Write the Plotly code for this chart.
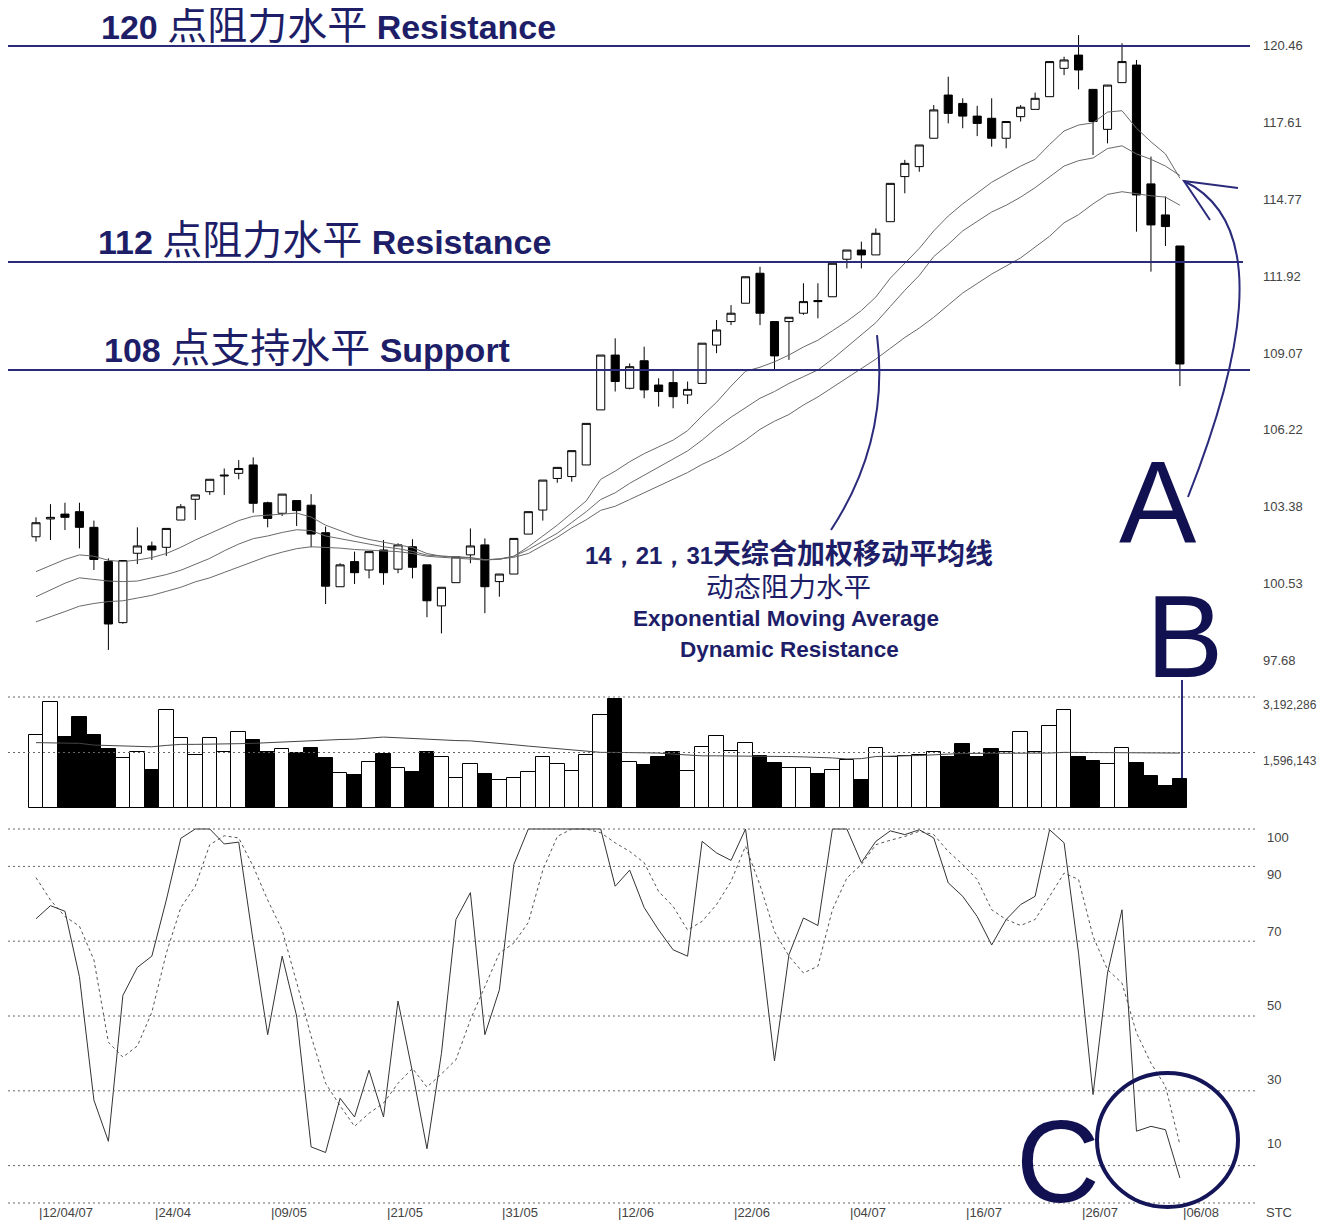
import plotly.graph_objects as go

# ---------------- data ----------------
N = 80
idx = list(range(N))

opens = [101.82, 102.48, 102.66, 102.75, 102.17, 100.90, 98.64, 101.21, 101.48, 101.43,
         102.44, 103.21, 103.49, 104.07, 104.17, 104.48, 103.08, 102.69, 103.16, 102.99,
         101.97, 99.97, 100.90, 100.59, 101.33, 100.62, 101.45, 100.78, 99.26, 100.12,
         101.15, 101.52, 100.16, 100.44, 101.92, 102.81, 103.98, 104.05, 104.48, 106.52,
         108.55, 107.32, 108.34, 107.44, 107.53, 107.07, 107.50, 108.92, 109.79, 110.47,
         111.58, 109.79, 109.79, 110.10, 110.57, 110.71, 112.10, 112.44, 112.26, 113.49,
         115.16, 115.53, 116.58, 118.18, 117.87, 117.40, 117.32, 116.58, 117.38, 117.65,
         118.12, 119.17, 119.66, 118.39, 116.91, 118.64, 119.29, 114.89, 113.74, 112.59]
highs = [102.54, 103.03, 103.08, 103.08, 102.42, 101.02, 100.96, 102.17, 101.64, 102.13,
         103.03, 103.37, 103.95, 104.35, 104.66, 104.76, 103.12, 103.40, 103.16, 103.40,
         102.20, 100.84, 101.27, 101.27, 101.70, 101.58, 101.73, 100.78, 99.95, 101.08,
         102.13, 101.76, 100.44, 101.76, 102.75, 103.92, 104.39, 105.01, 106.02, 108.55,
         109.17, 108.24, 108.86, 107.69, 108.00, 107.57, 108.99, 109.85, 110.40, 111.45,
         111.82, 109.79, 109.95, 111.21, 111.21, 111.95, 112.44, 112.75, 113.24, 114.91,
         115.78, 116.33, 117.81, 118.86, 118.06, 117.78, 118.06, 117.20, 117.81, 118.27,
         119.42, 119.60, 120.40, 118.39, 118.55, 120.10, 119.48, 115.90, 114.42, 112.59]
lows = [101.64, 101.70, 102.07, 101.39, 100.59, 97.63, 98.60, 100.81, 100.96, 101.11,
        102.44, 102.44, 103.37, 103.37, 103.95, 102.71, 102.17, 102.59, 102.22, 101.43,
        99.33, 99.97, 100.07, 100.28, 100.04, 100.47, 100.28, 98.84, 98.24, 100.12,
        100.84, 98.99, 99.60, 100.44, 101.92, 102.42, 103.82, 103.86, 104.48, 106.52,
        107.20, 107.28, 106.95, 106.64, 106.58, 106.74, 107.50, 108.62, 109.66, 110.47,
        109.66, 108.02, 108.37, 110.04, 109.91, 110.71, 111.76, 111.76, 112.26, 113.49,
        114.54, 115.34, 116.58, 117.13, 116.95, 116.66, 116.27, 116.21, 117.20, 117.65,
        118.12, 118.92, 118.39, 115.96, 116.39, 118.64, 113.12, 111.64, 112.59, 107.40]
closes = [102.34, 102.54, 102.54, 102.17, 100.98, 98.59, 100.94, 101.48, 101.33, 102.13,
          102.93, 103.37, 103.95, 104.10, 104.35, 103.06, 102.50, 103.40, 102.79, 101.92,
          99.99, 100.78, 100.49, 101.27, 100.49, 101.52, 100.69, 99.45, 99.95, 101.08,
          101.48, 99.97, 100.44, 101.76, 102.75, 103.92, 104.39, 105.01, 106.02, 108.55,
          107.57, 108.12, 107.26, 107.20, 107.01, 107.28, 108.99, 109.48, 110.10, 111.45,
          110.10, 108.52, 109.95, 110.53, 110.53, 111.95, 112.44, 112.26, 113.06, 114.91,
          115.65, 116.33, 117.63, 117.50, 117.40, 117.13, 116.58, 117.20, 117.73, 118.06,
          119.42, 119.48, 119.11, 117.20, 118.55, 119.42, 114.48, 113.37, 113.31, 108.22]

ema14 = [100.53, 100.75, 100.98, 101.15, 101.10, 100.95, 100.90, 100.96, 101.05, 101.20,
         101.43, 101.70, 101.95, 102.17, 102.42, 102.58, 102.62, 102.66, 102.70, 102.55,
         102.25, 102.05, 101.85, 101.72, 101.62, 101.52, 101.42, 101.20, 101.10, 101.08,
         101.05, 100.97, 100.98, 101.10, 101.45, 101.85, 102.25, 102.70, 103.15, 103.95,
         104.25, 104.60, 104.90, 105.15, 105.40, 105.75, 106.30, 106.80, 107.40, 107.95,
         108.10, 108.30, 108.55, 108.85, 109.10, 109.45, 109.80, 110.20, 110.70, 111.40,
         111.95, 112.50, 113.15, 113.70, 114.15, 114.55, 114.95, 115.25, 115.55, 115.80,
         116.35, 116.85, 117.07, 117.15, 117.55, 117.60, 116.95, 116.45, 116.00, 115.10]
ema21 = [99.60, 99.85, 100.10, 100.30, 100.25, 100.18, 100.16, 100.18, 100.30, 100.42,
         100.58, 100.80, 101.02, 101.30, 101.55, 101.75, 101.85, 101.98, 102.08, 102.05,
         101.85, 101.75, 101.65, 101.55, 101.45, 101.38, 101.28, 101.14, 101.10, 101.08,
         101.04, 100.97, 101.00, 101.10, 101.35, 101.65, 101.95, 102.35, 102.75, 103.20,
         103.45, 103.80, 104.10, 104.40, 104.70, 105.00, 105.40, 105.85, 106.25, 106.60,
         106.95, 107.20, 107.50, 107.75, 108.00, 108.40, 108.85, 109.30, 109.75, 110.35,
         110.95, 111.50, 112.20, 112.65, 113.15, 113.50, 113.85, 114.10, 114.40, 114.75,
         115.15, 115.55, 115.75, 115.85, 116.20, 116.30, 116.00, 115.80, 115.55, 115.20]
ema31 = [98.67, 98.85, 99.05, 99.25, 99.35, 99.42, 99.45, 99.55, 99.65, 99.80,
         99.95, 100.15, 100.30, 100.50, 100.70, 100.90, 101.10, 101.25, 101.38, 101.45,
         101.43, 101.40, 101.35, 101.32, 101.29, 101.27, 101.20, 101.10, 101.06, 101.03,
         101.00, 100.96, 101.00, 101.06, 101.20, 101.50, 101.80, 102.15, 102.45, 102.80,
         102.95, 103.20, 103.45, 103.70, 103.95, 104.20, 104.50, 104.75, 105.05, 105.40,
         105.80, 106.10, 106.35, 106.70, 107.00, 107.35, 107.70, 108.05, 108.40, 108.80,
         109.20, 109.55, 109.95, 110.40, 110.85, 111.20, 111.55, 111.85, 112.15, 112.55,
         112.95, 113.45, 113.75, 114.15, 114.50, 114.60, 114.52, 114.45, 114.40, 114.10]

# volume in millions
volume = [2.09, 3.05, 2.05, 2.61, 2.09, 1.69, 1.44, 1.62, 1.08, 2.82,
          2.02, 1.53, 2.02, 1.60, 2.19, 1.97, 1.62, 1.69, 1.58, 1.72,
          1.44, 1.00, 0.96, 1.33, 1.55, 1.15, 1.03, 1.60, 1.47, 0.85,
          1.27, 0.99, 0.80, 0.85, 1.03, 1.47, 1.27, 1.06, 1.53, 2.68,
          3.13, 1.33, 1.24, 1.47, 1.60, 1.06, 1.76, 2.08, 1.64, 1.86,
          1.49, 1.29, 1.15, 1.15, 0.99, 1.10, 1.38, 0.80, 1.72, 1.47,
          1.50, 1.53, 1.62, 1.48, 1.83, 1.48, 1.69, 1.60, 2.18, 1.60,
          2.35, 2.82, 1.46, 1.34, 1.27, 1.72, 1.29, 0.91, 0.63, 0.82]
volume_ma = [1.88, 1.88, 1.88, 1.86, 1.81, 1.80, 1.80, 1.78, 1.76, 1.80,
             1.83, 1.83, 1.83, 1.84, 1.85, 1.86, 1.88, 1.90, 1.92, 1.95,
             1.97, 1.97, 1.98, 2.00, 2.04, 2.02, 2.00, 1.96, 1.95, 1.94,
             1.93, 1.90, 1.86, 1.82, 1.78, 1.74, 1.70, 1.66, 1.62, 1.60,
             1.60, 1.60, 1.59, 1.58, 1.55, 1.52, 1.50, 1.50, 1.50, 1.50,
             1.50, 1.49, 1.48, 1.47, 1.46, 1.44, 1.41, 1.42, 1.48, 1.50,
             1.50, 1.51, 1.52, 1.55, 1.57, 1.57, 1.57, 1.57, 1.57, 1.57,
             1.58, 1.60, 1.60, 1.60, 1.60, 1.60, 1.60, 1.60, 1.59, 1.58]

stoch_k = [76, 79.5, 78, 60.5, 27.5, 16.5, 55.5, 63, 66, 81,
           97.5, 100, 100, 96, 96.5, 70, 45, 66, 50, 15,
           13.5, 28, 23, 35.5, 23, 54, 35, 14.5, 40, 75.8,
           83, 45, 57, 90.5, 100, 100, 100, 100, 100, 100,
           84.7, 89, 79, 73, 67.7, 66, 96.7, 93.6, 91.6, 100,
           70.4, 38, 66.4, 76.2, 74.2, 100, 100, 91, 96.7, 99.5,
           98.5, 99.8, 97.6, 85.6, 82, 76.6, 69, 75.8, 79.8, 82,
           99.8, 96.3, 66.8, 29, 61.5, 78.4, 19.2, 20.5, 19.6, 6.7]
stoch_d = [87, 81, 76.6, 74, 65, 43, 39, 42, 51, 66.8,
           79, 84.7, 95.8, 98.2, 97.6, 90, 81, 73, 59, 44.6,
           32, 26, 20.5, 24, 26.7, 32, 36, 31, 34.5, 38.3,
           49, 58, 66.8, 69.5, 75, 89, 98, 100, 100, 99,
           96.3, 94, 91, 83.3, 79.3, 73, 75.3, 79.8, 86, 95.4,
           85, 72.6, 66, 61.5, 63.3, 78.4, 86.9, 90.5, 95.8, 97,
           98, 99.4, 98.5, 94, 90.5, 86.5, 78.4, 75.8, 74.2, 75.8,
           82, 88.2, 86.5, 71.3, 62.4, 58.8, 45.5, 37.4, 31.2, 15.6]

date_idx = [0, 8, 16, 24, 32, 40, 48, 56, 64, 72, 79]
date_labels = ["12/04/07", "24/04", "09/05", "21/05", "31/05", "12/06",
               "22/06", "04/07", "16/07", "26/07", "06/08"]
price_ticks = ["120.46", "117.61", "114.77", "111.92", "109.07",
               "106.22", "103.38", "100.53", "97.68"]
volume_ticks = [3.192286, 1.596143]
volume_tick_text = ["3,192,286", "1,596,143"]
stoch_levels = [100, 90, 70, 50, 30, 10, 0]
stoch_labels = ["100", "90", "70", "50", "30", "10"]
levels = [120, 112, 108]

# ---------------- geometry helpers (reference pixel -> paper) ----------------
OFF = 8                      # page body margin
W, H = 1336 - OFF, 1222 - OFF
def px(x):
    return (x - OFF) / W
def py(y):
    return 1 - (y - OFF) / H
def pt(x, y):
    return f"{px(x):.5f},{py(y):.5f}"

SPACING = 14.48
X0 = 36.0
def xi(pix):  # reference pixel -> index coordinate
    return (pix - X0) / SPACING

xr = [xi(OFF), xi(1336)]

NAVY = "#1e1e68"
LINE_NAVY = "#2b2b7c"
SANS = "Liberation Sans, Arial, sans-serif"
CJK = "Noto Sans CJK SC"

vol_colors = ["white" if c >= o else "black" for o, c in zip(opens, closes)]

fig = go.Figure()

# price panel
for ema in (ema31, ema21, ema14):
    fig.add_trace(go.Scatter(x=idx, y=ema, mode="lines",
                             line=dict(color="#6a6a6a", width=1),
                             xaxis="x", yaxis="y", hoverinfo="skip"))
fig.add_trace(go.Candlestick(
    x=idx, open=opens, high=highs, low=lows, close=closes,
    increasing=dict(line=dict(color="black", width=1), fillcolor="white"),
    decreasing=dict(line=dict(color="black", width=1), fillcolor="black"),
    whiskerwidth=0, xaxis="x", yaxis="y", hoverinfo="skip"))

# volume panel
fig.add_trace(go.Bar(x=idx, y=volume,
                     marker=dict(color=vol_colors, line=dict(color="black", width=1)),
                     xaxis="x2", yaxis="y2", hoverinfo="skip"))
fig.add_trace(go.Scatter(x=idx, y=volume_ma, mode="lines",
                         line=dict(color="#444", width=1),
                         xaxis="x2", yaxis="y2", hoverinfo="skip"))

# stochastic panel
fig.add_trace(go.Scatter(x=idx, y=stoch_d, mode="lines",
                         line=dict(color="#555", width=1, dash="3px,3px"),
                         xaxis="x3", yaxis="y3", hoverinfo="skip"))
fig.add_trace(go.Scatter(x=idx, y=stoch_k, mode="lines",
                         line=dict(color="#333", width=1),
                         xaxis="x3", yaxis="y3", hoverinfo="skip"))

shapes = []
for lv, xend in zip(levels, [1250, 1243, 1250]):
    shapes.append(dict(type="line", xref="x", yref="y", x0=xi(8), x1=xi(xend),
                       y0=lv, y1=lv, line=dict(color=LINE_NAVY, width=2)))
for v in volume_ticks:
    shapes.append(dict(type="line", xref="x2", yref="y2", x0=xi(8), x1=xi(1255),
                       y0=v, y1=v, line=dict(color="#666", width=1, dash="2px,3px")))
for s in stoch_levels:
    shapes.append(dict(type="line", xref="x3", yref="y3", x0=xi(8), x1=xi(1255),
                       y0=s, y1=s, line=dict(color="#666", width=1, dash="2px,3px")))
shapes.append(dict(type="path", xref="paper", yref="paper",
                   path=f"M {pt(877,335)} Q {pt(890,440)} {pt(831,530)}",
                   line=dict(color=LINE_NAVY, width=2)))
shapes.append(dict(type="path", xref="paper", yref="paper",
                   path=f"M {pt(1188,497)} C {pt(1238,370)} {pt(1275,225)} {pt(1184,181)}",
                   line=dict(color=LINE_NAVY, width=2)))
shapes.append(dict(type="path", xref="paper", yref="paper",
                   path=f"M {pt(1238,188)} L {pt(1184,181)} L {pt(1210,220)}",
                   line=dict(color=LINE_NAVY, width=2)))
shapes.append(dict(type="line", xref="paper", yref="paper",
                   x0=px(1182), x1=px(1182), y0=py(680), y1=py(778),
                   line=dict(color=LINE_NAVY, width=2)))
shapes.append(dict(type="circle", xref="paper", yref="paper",
                   x0=px(1097), x1=px(1238), y0=py(1207), y1=py(1073),
                   line=dict(color="#141458", width=4)))

ann = []
tick_font = dict(family=SANS, size=13, color="#444")
for t in price_ticks:
    ann.append(dict(x=px(1261), xref="paper", y=float(t), yref="y", text=t,
                    showarrow=False, xanchor="left", yanchor="middle",
                    yshift=-12, font=tick_font))
for v, t in zip(volume_ticks, volume_tick_text):
    ann.append(dict(x=px(1261), xref="paper", y=v, yref="y2", text=t,
                    showarrow=False, xanchor="left", yanchor="middle",
                    yshift=-8, font=dict(family=SANS, size=12, color="#444")))
for t, sh in zip(stoch_labels, [-8, -8, 10, 11, 11, 22]):
    ann.append(dict(x=px(1265), xref="paper", y=float(t), yref="y3", text=t,
                    showarrow=False, xanchor="left", yanchor="middle",
                    yshift=sh, font=tick_font))
ann.append(dict(x=px(1264), xref="paper", y=py(1212), yref="paper", text="STC",
                showarrow=False, xanchor="left", yanchor="middle", font=tick_font))
for i, t in zip(date_idx, date_labels):
    ann.append(dict(x=i, xref="x3", y=py(1212), yref="paper", text="|" + t,
                    showarrow=False, xanchor="left", yanchor="middle", xshift=1,
                    font=tick_font))

def headline(num, cjk, eng, x, y):
    return dict(x=px(x), xref="paper", y=py(y), yref="paper", showarrow=False,
                xanchor="left", yanchor="middle",
                text=(f"<b>{num}</b> <span style=\"font-family:{CJK};font-size:40px\">{cjk}</span>"
                      f" <b>{eng}</b>"),
                font=dict(family=SANS, size=34, color=NAVY))

ann.append(headline("120", "点阻力水平", "Resistance", 99, 22))
ann.append(headline("112", "点阻力水平", "Resistance", 96, 237))
ann.append(headline("108", "点支持水平", "Support", 102, 345))

ann.append(dict(x=px(789), xref="paper", y=py(552), yref="paper", showarrow=False,
                xanchor="center", yanchor="middle",
                text=("<b>14，21，31</b><span style=\"font-family:" + CJK +
                      ";font-size:28px;font-weight:bold\">天综合加权移动平均线</span>"),
                font=dict(family=SANS, size=24, color=NAVY)))
ann.append(dict(x=px(788), xref="paper", y=py(585), yref="paper", showarrow=False,
                xanchor="center", yanchor="middle", text="动态阻力水平",
                font=dict(family=CJK, size=27.5, color=NAVY)))
ann.append(dict(x=px(786), xref="paper", y=py(618), yref="paper", showarrow=False,
                xanchor="center", yanchor="middle", text="<b>Exponential Moving Average</b>",
                font=dict(family=SANS, size=22.5, color=NAVY)))
ann.append(dict(x=px(789), xref="paper", y=py(650), yref="paper", showarrow=False,
                xanchor="center", yanchor="middle", text="<b>Dynamic Resistance</b>",
                font=dict(family=SANS, size=22.5, color=NAVY)))

for letter, x, y in (("A", 1158, 503), ("B", 1184, 637), ("C", 1058, 1162)):
    ann.append(dict(x=px(x), xref="paper", y=py(y), yref="paper", showarrow=False,
                    xanchor="center", yanchor="middle", text=letter,
                    font=dict(family=SANS, size=116, color="#111152")))

hidden = dict(visible=False, showgrid=False, zeroline=False)
fig.update_layout(
    width=W, height=H, margin=dict(l=0, r=0, t=0, b=0),
    paper_bgcolor="white", plot_bgcolor="white", showlegend=False,
    bargap=0, boxgap=0.2,
    xaxis=dict(domain=[0, 1], range=xr, anchor="y", rangeslider=dict(visible=False), **hidden),
    xaxis2=dict(domain=[0, 1], range=xr, anchor="y2", matches="x", **hidden),
    xaxis3=dict(domain=[0, 1], range=xr, anchor="y3", matches="x", **hidden),
    yaxis=dict(domain=[py(685), 1], range=[120.46 - (685 - 33.5) / 27.0, 120.46 + (33.5 - OFF) / 27.0],
               anchor="x", **hidden),
    yaxis2=dict(domain=[py(808), py(690)], range=[0, (808 - 690) / 34.77], anchor="x2", **hidden),
    yaxis3=dict(domain=[py(1210), py(815)], range=[-(1210 - 1203) / 3.74, (1203 - 815) / 3.74],
                anchor="x3", **hidden),
    shapes=shapes, annotations=ann,
)

fig.write_html("out.html")
